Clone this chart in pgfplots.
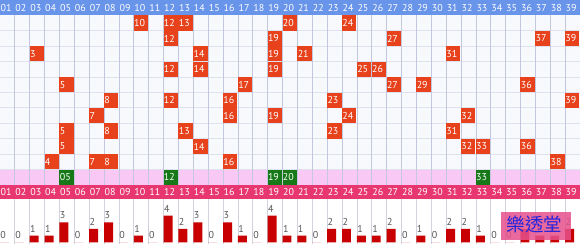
\documentclass[border=0pt]{standalone}
\usepackage{pgfplots}
\pgfplotsset{compat=1.18}
\usepackage{pgfplotstable}
\usepackage{fontspec}
\setmainfont{PT Sans}
\newfontfamily\cjk{Noto Sans CJK TC}
\definecolor{hdrblue}{RGB}{104,148,234}
\definecolor{hdrpink}{RGB}{232,54,112}
\definecolor{rowpink}{RGB}{250,200,244}
\definecolor{cellred}{RGB}{231,66,28}
\definecolor{cellgreen}{RGB}{22,120,22}
\definecolor{barred}{RGB}{200,0,0}
\definecolor{gridv}{RGB}{196,200,222}
\definecolor{gridh}{RGB}{222,225,238}
\definecolor{gridbg}{RGB}{248,249,253}
\definecolor{gridb}{RGB}{208,210,222}
\definecolor{labgray}{RGB}{85,85,85}
\definecolor{wmpink}{RGB}{230,80,140}
\definecolor{wmblue}{RGB}{36,36,220}

\pgfplotstableread{
c lab n
1 01 0
2 02 0
3 03 1
4 04 1
5 05 3
6 06 0
7 07 2
8 08 3
9 09 0
10 10 1
11 11 0
12 12 4
13 13 2
14 14 3
15 15 0
16 16 3
17 17 1
18 18 0
19 19 4
20 20 1
21 21 1
22 22 0
23 23 2
24 24 2
25 25 1
26 26 1
27 27 2
28 28 0
29 29 1
30 30 0
31 31 2
32 32 2
33 33 1
34 34 0
35 35 0
36 36 2
37 37 1
38 38 1
39 39 2
}\cols

\pgfplotstableread{
r c lab
1 10 10
1 12 12
1 13 13
1 20 20
1 24 24
2 12 12
2 19 19
2 27 27
2 37 37
2 39 39
3 3 3
3 14 14
3 19 19
3 21 21
3 31 31
4 12 12
4 14 14
4 19 19
4 25 25
4 26 26
5 5 5
5 17 17
5 27 27
5 29 29
5 36 36
6 8 8
6 12 12
6 16 16
6 23 23
6 39 39
7 7 7
7 16 16
7 19 19
7 24 24
7 32 32
8 5 5
8 8 8
8 13 13
8 23 23
8 31 31
9 5 5
9 14 14
9 32 32
9 33 33
9 36 36
10 4 4
10 7 7
10 8 8
10 16 16
10 38 38
}\reds

\pgfplotstableread{
c lab
5 05
12 12
19 19
20 20
33 33
}\greens

\newcommand{\numfont}{\fontsize{10bp}{12bp}\selectfont}

\begin{document}
\begin{tikzpicture}
\useasboundingbox (0,0) rectangle (580bp,244bp);
\begin{axis}[at={(0bp,45bp)}, anchor=south west, scale only axis,
  width=580bp, height=199bp, xmin=0, xmax=39, ymin=0, ymax=199,
  y dir=reverse, hide axis, clip=false]
\fill[hdrblue] (axis cs:0,0) rectangle (axis cs:39,15.3);
\fill[gridbg] (axis cs:0,15.3) rectangle (axis cs:39,169.6);
\fill[rowpink] (axis cs:0,169.6) rectangle (axis cs:39,185);
\fill[hdrpink] (axis cs:0,185) rectangle (axis cs:39,199);
\pgfplotsinvokeforeach{1,...,10}{\draw[gridh, line width=0.8bp] (axis cs:0,{15.3+#1*15.43}) -- (axis cs:39,{15.3+#1*15.43});}
\pgfplotsinvokeforeach{1,...,38}{\draw[gridv, line width=0.8bp] (axis cs:#1,15.3) -- (axis cs:#1,185);}
% header labels
\addplot[only marks, mark=none, point meta=explicit symbolic, nodes near coords,
  nodes near coords style={anchor=west, text=white, font=\numfont, inner sep=0pt, xshift=0.4bp}]
  table[x expr=\thisrow{c}-1, y expr=7.7, meta=lab] \cols;
\addplot[only marks, mark=none, point meta=explicit symbolic, nodes near coords,
  nodes near coords style={anchor=west, text=white, font=\numfont, inner sep=0pt, xshift=0.4bp}]
  table[x expr=\thisrow{c}-1, y expr=191.8, meta=lab] \cols;
% red cells
\addplot[only marks, mark=none, point meta=explicit symbolic, nodes near coords,
  nodes near coords style={anchor=center, fill=cellred, text=white, font=\numfont,
    minimum height=15.2bp, text width=13.6bp, inner xsep=0.4bp, inner ysep=0pt, align=left}]
  table[x expr=\thisrow{c}-0.52, y expr={15.3+(\thisrow{r}-0.5)*15.43}, meta=lab] \reds;
% green cells
\addplot[only marks, mark=none, point meta=explicit symbolic, nodes near coords,
  nodes near coords style={anchor=center, fill=cellgreen, text=white, font=\numfont,
    minimum height=15bp, text width=13.6bp, inner xsep=0.4bp, inner ysep=0pt, align=left}]
  table[x expr=\thisrow{c}-0.52, y expr=177.3, meta=lab] \greens;
\end{axis}
\begin{axis}[at={(0bp,0bp)}, anchor=south west, scale only axis,
  width=580bp, height=45bp, xmin=0, xmax=39, ymin=-0.256, ymax=6.51,
  hide axis, clip=false]
\pgfplotsinvokeforeach{1,...,38}{\draw[gridb, line width=0.8bp] (axis cs:#1,-0.256) -- (axis cs:#1,6.51);}
\addplot[ybar, bar width=0.6, bar shift=0pt, fill=barred, draw=none]
  table[x expr=\thisrow{c}-0.7, y=n] \cols;
\addplot[only marks, mark=none, point meta=explicit symbolic, nodes near coords,
  nodes near coords style={anchor=south west, text=labgray, font=\numfont, inner xsep=0.3bp, inner ysep=3.2bp}]
  table[x expr=\thisrow{c}-1, y=n, meta=n] \cols;
\end{axis}
\fill[wmpink, opacity=0.85] (500.7bp,4bp) rectangle (570.7bp,32.3bp);
\node[text=wmblue, font=\cjk\fontsize{18.5bp}{20bp}\selectfont, inner sep=0pt] at (534.5bp,19.5bp) {樂透堂};
\end{tikzpicture}
\end{document}
